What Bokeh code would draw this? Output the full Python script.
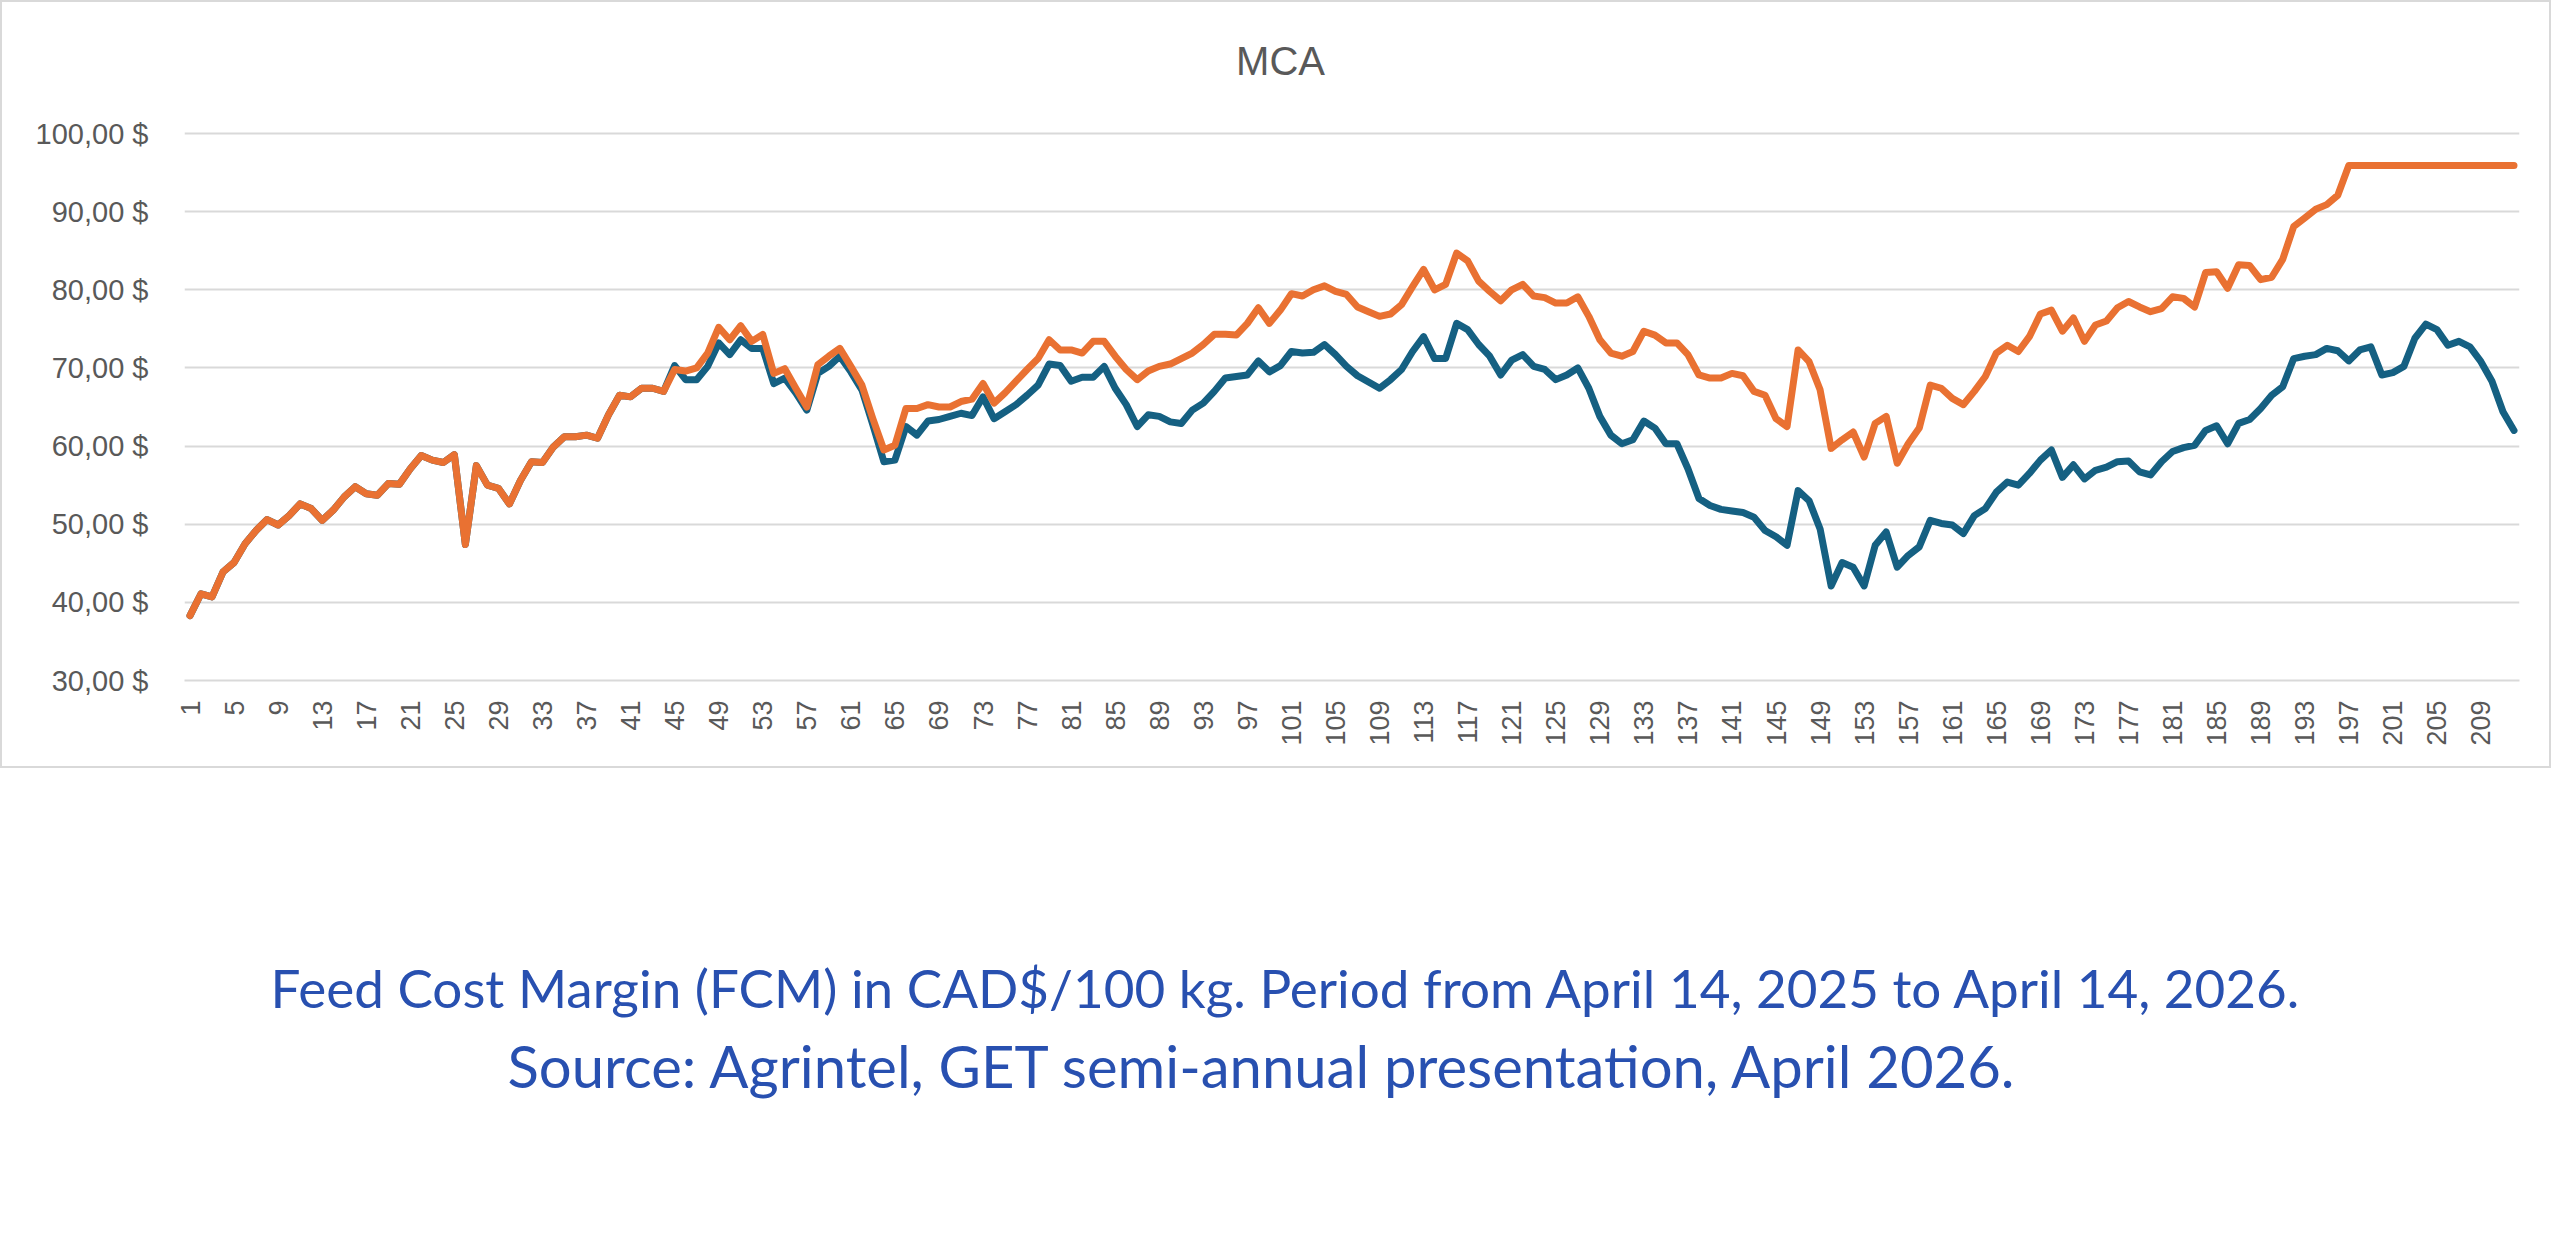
from bokeh.plotting import figure
from bokeh.models import Range1d, FixedTicker, Label
from bokeh.layouts import column
from bokeh.embed import file_html
from bokeh.resources import INLINE
import math

# ---------------- data ----------------
days = list(range(1, 213))

mca_orange = [
    38.3, 41.1, 40.7, 43.9, 45.1, 47.5, 49.2, 50.6, 49.9, 51.1,
    52.6, 52.0, 50.5, 51.8, 53.5, 54.8, 53.9, 53.7, 55.2, 55.1,
    57.1, 58.8, 58.2, 57.9, 58.9, 47.4, 57.5, 55.0, 54.6, 52.6,
    55.6, 58.0, 57.9, 59.9, 61.2, 61.2, 61.4, 61.0, 64.0, 66.5,
    66.3, 67.4, 67.4, 67.0, 69.8, 69.6, 70.0, 71.9, 75.2, 73.6,
    75.4, 73.4, 74.3, 69.3, 69.9, 67.4, 65.0, 70.4, 71.5, 72.5,
    70.2, 67.8, 63.5, 59.5, 60.1, 64.8, 64.8, 65.3, 65.0, 65.0,
    65.7, 66.0, 68.0, 65.5, 66.8, 68.3, 69.8, 71.2, 73.6, 72.3,
    72.3, 71.9, 73.4, 73.4, 71.5, 69.8, 68.5, 69.6, 70.2, 70.5,
    71.2, 71.9, 73.0, 74.3, 74.3, 74.2, 75.7, 77.7, 75.7, 77.4,
    79.5, 79.2, 80.0, 80.5, 79.8, 79.4, 77.8, 77.2, 76.6, 76.9,
    78.1, 80.4, 82.6, 80.0, 80.7, 84.7, 83.7, 81.1, 79.8, 78.6,
    80.0, 80.7, 79.2, 79.0, 78.3, 78.3, 79.1, 76.6, 73.6, 71.9,
    71.5, 72.1, 74.7, 74.2, 73.2, 73.2, 71.7, 69.1, 68.7, 68.7,
    69.3, 69.0, 67.0, 66.5, 63.5, 62.5, 72.3, 70.8, 67.2, 59.7,
    60.8, 61.8, 58.6, 62.9, 63.8, 57.8, 60.3, 62.3, 67.8, 67.4,
    66.1, 65.3, 67.0, 68.9, 71.9, 72.9, 72.1, 74.0, 76.9, 77.4,
    74.7, 76.4, 73.4, 75.5, 76.0, 77.7, 78.5, 77.8, 77.2, 77.6,
    79.1, 78.9, 77.8, 82.2, 82.3, 80.2, 83.2, 83.1, 81.3, 81.6,
    83.9, 88.1, 89.2, 90.3, 90.9, 92.1, 95.9, 95.9, 95.9, 95.9,
    95.9, 95.9, 95.9, 95.9, 95.9, 95.9, 95.9, 95.9, 95.9, 95.9,
    95.9, 95.9,
]

mca_blue = [
    38.3, 41.1, 40.7, 43.9, 45.1, 47.5, 49.2, 50.6, 49.9, 51.1,
    52.6, 52.0, 50.5, 51.8, 53.5, 54.8, 53.9, 53.7, 55.2, 55.1,
    57.1, 58.8, 58.2, 57.9, 58.9, 47.4, 57.5, 55.0, 54.6, 52.6,
    55.6, 58.0, 57.9, 59.9, 61.2, 61.2, 61.4, 61.0, 64.0, 66.5,
    66.3, 67.4, 67.4, 67.0, 70.3, 68.5, 68.5, 70.2, 73.2, 71.7,
    73.6, 72.5, 72.5, 68.0, 68.7, 66.8, 64.6, 69.3, 70.2, 71.5,
    69.5, 67.2, 62.7, 58.0, 58.2, 62.5, 61.4, 63.2, 63.4, 63.8,
    64.2, 63.9, 66.3, 63.5, 64.4, 65.3, 66.5, 67.8, 70.5, 70.3,
    68.3, 68.8, 68.8, 70.2, 67.4, 65.3, 62.5, 64.0, 63.8, 63.1,
    62.9, 64.6, 65.5, 67.0, 68.7, 68.9, 69.1, 70.9, 69.5, 70.3,
    72.1, 71.9, 72.0, 73.0, 71.7, 70.2, 69.0, 68.2, 67.4, 68.5,
    69.8, 72.1, 74.0, 71.2, 71.2, 75.7, 74.9, 73.0, 71.5, 69.1,
    71.0, 71.7, 70.2, 69.8, 68.5, 69.1, 70.0, 67.4, 63.8, 61.4,
    60.3, 60.8, 63.2, 62.3, 60.3, 60.3, 57.1, 53.3, 52.4, 51.9,
    51.7, 51.5, 50.9, 49.2, 48.4, 47.3, 54.3, 53.0, 49.4, 42.1,
    45.1, 44.5, 42.1, 47.3, 49.0, 44.5, 46.0, 47.1, 50.5, 50.1,
    49.9, 48.8, 51.1, 52.0, 54.1, 55.4, 55.0, 56.5, 58.2, 59.5,
    56.0, 57.6, 55.8, 56.9, 57.3, 58.0, 58.1, 56.7, 56.3, 58.0,
    59.3, 59.8, 60.1, 62.0, 62.6, 60.3, 62.9, 63.4, 64.8, 66.5,
    67.6, 71.2, 71.5, 71.7, 72.5, 72.2, 70.9, 72.3, 72.7, 69.1,
    69.4, 70.2, 73.8, 75.6, 74.9, 72.9, 73.4, 72.7, 70.8, 68.3,
    64.4, 62.0,
]

x_ticks = list(range(1, 210, 4))
y_ticks = [30, 40, 50, 60, 70, 80, 90, 100]
y_tick_labels = ["30,00 $", "40,00 $", "50,00 $", "60,00 $", "70,00 $",
                 "80,00 $", "90,00 $", "100,00 $"]
title_text = "MCA"
caption_lines = [
    "Feed Cost Margin (FCM) in CAD$/100 kg. Period from April 14, 2025 to April 14, 2026.",
    "Source: Agrintel, GET semi-annual presentation, April 2026.",
]

assert len(mca_orange) == len(days) == len(mca_blue)

# ---------------- page geometry (pixels) ----------------
W, H = 2560, 1233
BW = 2                         # chart box border width
CW, CH = 2551, 768             # chart canvas size (inside border)
OX, OY = BW, BW                # canvas origin on page
FL, FR, FT, FB = 184, 2519, 133, 680   # plot frame for the 100..30 band (page px)
X0, X1 = 0.5, len(days) + 0.5
Y0, Y1 = 30, 100
Y_TOP = Y0 + (FB - OY) * (Y1 - Y0) / (FB - FT)   # frame extends up to canvas top


def px_x(px):
    return X0 + (px - FL) * (X1 - X0) / (FR - FL)


def px_y(py):
    return Y0 + (FB - py) * (Y1 - Y0) / (FB - FT)


GREY_TXT = "#595959"
GRID = "#d9d9d9"
BLUE = "#156082"
ORANGE = "#E97132"
CAPTION = "#2850B0"

p = figure(width=CW, height=CH, output_backend="svg", toolbar_location=None,
           x_range=Range1d(X0, X1), y_range=Range1d(Y0, Y_TOP), title=None,
           styles={"border": f"{BW}px solid {GRID}"})
p.min_border_left = FL - OX
p.min_border_right = OX + CW - FR
p.min_border_top = 0
p.min_border_bottom = OY + CH - FB
p.outline_line_color = None
p.background_fill_color = "white"
p.border_fill_color = "white"

# y axis
p.yaxis.ticker = FixedTicker(ticks=y_ticks)
p.yaxis.major_label_overrides = {t: s for t, s in zip(y_ticks, y_tick_labels)}
p.yaxis.axis_line_color = None
p.yaxis.major_tick_line_color = None
p.yaxis.minor_tick_line_color = None
p.yaxis.major_tick_out = 0
p.yaxis.major_tick_in = 0
p.yaxis.major_label_standoff = 36
p.yaxis.major_label_text_font = "Liberation Sans"
p.yaxis.major_label_text_font_size = "29px"
p.yaxis.major_label_text_color = GREY_TXT

# x axis
p.xaxis.ticker = FixedTicker(ticks=x_ticks)
p.xaxis.axis_line_color = GRID
p.xaxis.axis_line_width = 2
p.xaxis.major_tick_line_color = None
p.xaxis.minor_tick_line_color = None
p.xaxis.major_tick_out = 0
p.xaxis.major_tick_in = 0
p.xaxis.major_label_standoff = 20
p.xaxis.major_label_orientation = math.pi / 2
p.xaxis.major_label_text_font = "Liberation Sans"
p.xaxis.major_label_text_font_size = "27px"
p.xaxis.major_label_text_color = GREY_TXT

p.xgrid.grid_line_color = None
p.ygrid.ticker = FixedTicker(ticks=y_ticks)
p.ygrid.grid_line_color = GRID
p.ygrid.grid_line_width = 2

p.line(days, mca_blue, line_color=BLUE, line_width=7, line_join="round", line_cap="round")
p.line(days, mca_orange, line_color=ORANGE, line_width=7, line_join="round", line_cap="round")

# chart title
p.add_layout(Label(x=px_x(1280), y=px_y(60), text=title_text, text_align="center",
                   text_baseline="middle", text_font="Liberation Sans",
                   text_font_size="40px", text_color=GREY_TXT))

# ---------------- caption below the chart box ----------------
CAP_TOP = OY + CH + BW
CAP_DX = -72          # horizontal correction observed for the caption canvas
cap_h = H - CAP_TOP
c = figure(width=W, height=cap_h, output_backend="svg", toolbar_location=None,
           x_range=Range1d(0, W), y_range=Range1d(cap_h, 0), title=None,
           x_axis_location=None, y_axis_location=None)
c.min_border = 0
c.grid.visible = False
c.outline_line_color = None
c.background_fill_color = "white"
c.border_fill_color = "white"
for line, cx, cy, fs in zip(caption_lines, (1278, 1253), (991, 1069), ("53px", "58px")):
    c.add_layout(Label(x=cx + CAP_DX, y=cy - CAP_TOP, text=line, text_align="center",
                       text_baseline="middle", text_font="Lato",
                       text_font_size=fs, text_color=CAPTION))

layout = column(p, c, spacing=0)
open("out.html", "w").write(file_html(layout, INLINE))
